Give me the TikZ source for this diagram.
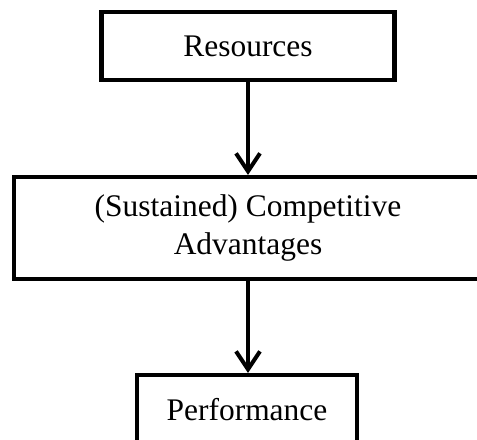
\documentclass[tikz,border=0pt]{standalone}
\usepackage{fontspec}
\setmainfont{Liberation Serif}
\usetikzlibrary{arrows.meta}

\begin{document}
\begin{tikzpicture}[>={Straight Barb[length=0.36cm, width=0.48cm]},
	blockbox/.style={draw, line width=2.3pt, align=center, inner sep=0pt,
		font=\fontsize{17.9}{21.5}\selectfont}]
	\useasboundingbox (0, 0) rectangle (9.54, -8.78);
	\clip (0, 0) rectangle (9.54, -8.78);

	\node[blockbox, minimum width=5.86cm, minimum height=1.36cm] (res) at (4.96, -0.92) {Resources};
	\node[blockbox, minimum width=9.36cm, minimum height=2.04cm] (adv) at (4.96, -4.56) {(Sustained) Competitive\\Advantages};
	\node[blockbox, minimum width=4.4cm, minimum height=1.4cm] (perf) at (4.94, -8.2) {Performance};

	\draw[line width=2.3pt, ->] (res) -- (adv);
	\draw[line width=2.3pt, ->] (adv) -- (adv |- perf.north);
\end{tikzpicture}
\end{document}
